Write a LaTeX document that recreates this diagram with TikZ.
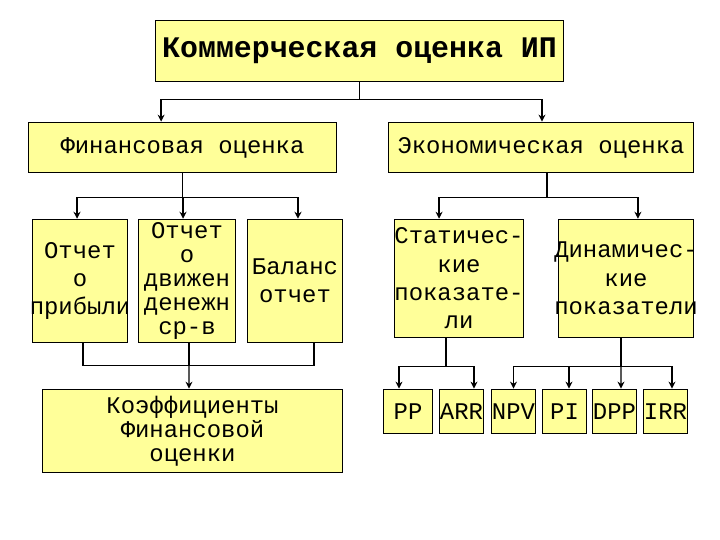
\documentclass[tikz,border=0pt]{standalone}
\usepackage{fontspec}
\usetikzlibrary{arrows.meta}
\newfontfamily\cour{Liberation Mono}
\definecolor{boxyellow}{RGB}{255,255,153}
\newcommand{\wideline}[1]{\makebox[0pt]{#1}}
\tikzset{
  box/.style={draw=black, fill=boxyellow, line width=1pt, inner sep=0pt, align=center},
  tall/.style={font={\cour\fontsize{24}{28.5}\selectfont}},
  dense/.style={font={\cour\fontsize{24}{24}\selectfont}},
  wire/.style={black, line width=1.3pt},
  feed/.style={wire, -{Stealth[length=7pt,width=7pt]}}
}

\begin{document}
\begin{tikzpicture}[x=1bp,y=-1bp]
\useasboundingbox (0,0) rectangle (720,540);
% upper levels
\node[box, font={\cour\bfseries\fontsize{30}{30}\selectfont}, minimum width=409, minimum height=62] (title) at (359.5,51) {Коммерческая оценка ИП};
\node[box, tall, minimum width=309, minimum height=51] (fin) at (182.5,147.5) {Финансовая оценка};
\node[box, tall, minimum width=306, minimum height=51] (eco) at (541,147.5) {Экономическая оценка};
% financial reports
\node[box, tall, minimum width=96, minimum height=124] (rep1) at (80,281) {Отчет\\о\\\wideline{прибыли}};
\node[box, dense, minimum width=98, minimum height=124] (rep2) at (187,281) {Отчет\\о\\движен\\денежн\\ср-в};
\node[box, tall, minimum width=96, minimum height=124] (rep3) at (295,281) {Баланс\\отчет};
\node[box, dense, minimum width=301, minimum height=84] (coef) at (192.5,431) {Коэффициенты\\Финансовой\\оценки};
% economic indicators
\node[box, tall, minimum width=130, minimum height=119] (stat) at (459,278.5) {Статичес-\\кие\\показате-\\ли};
\node[box, tall, minimum width=136, minimum height=119] (dyn) at (626,278.5) {\wideline{Динамичес-}\\кие\\\wideline{показатели}};
\node[box, tall, minimum width=50, minimum height=45] (pp) at (408,411.5) {PP};
\node[box, tall, minimum width=45, minimum height=45] (arr) at (461.5,411.5) {ARR};
\node[box, tall, minimum width=45, minimum height=45] (npv) at (513.5,411.5) {NPV};
\node[box, tall, minimum width=45, minimum height=45] (pi) at (564.5,411.5) {PI};
\node[box, tall, minimum width=45, minimum height=45] (dpp) at (614.5,411.5) {DPP};
\node[box, tall, minimum width=45, minimum height=45] (irr) at (665.5,411.5) {IRR};
% connectors
\draw[wire] (title.south) -- ++(0,17) coordinate (busA);
\draw[feed] (busA) -| ([xshift=-21.5]fin.north);
\draw[feed] (busA) -| ([xshift=1]eco.north);
\draw[wire] (fin.south) -- ++(0,24) coordinate (busB);
\draw[feed] (busB) -| ([xshift=-3]rep1.north);
\draw[feed] (busB) -| ([xshift=-4]rep2.north);
\draw[feed] (busB) -| ([xshift=3]rep3.north);
\draw[wire] ([xshift=3]rep1.south) -- ++(0,22) -| ([xshift=19]rep3.south);
\draw[wire] ([xshift=2]rep2.south) -- ++(0,22) coordinate (busC);
\draw[feed] (busC) -- ([xshift=-3.5]coef.north);
\draw[wire] ([xshift=6]eco.south) -- ++(0,24) coordinate (busD);
\draw[feed] (busD) -| ([xshift=-20]stat.north);
\draw[feed] (busD) -| ([xshift=12]dyn.north);
\draw[wire] ([xshift=-13]stat.south) -- ++(0,28) coordinate (busE);
\draw[feed] (busE) -| ([xshift=-9]pp.north);
\draw[feed] (busE) -| ([xshift=12.5]arr.north);
\draw[wire] ([xshift=-5]dyn.south) -- ++(0,28) coordinate (busF);
\draw[feed] (busF) -| (npv.north);
\draw[feed] (busF) -| ([xshift=4.5]pi.north);
\draw[feed] (busF) -- ([xshift=6.5]dpp.north);
\draw[feed] (busF) -| ([xshift=6.5]irr.north);
\end{tikzpicture}
\end{document}
